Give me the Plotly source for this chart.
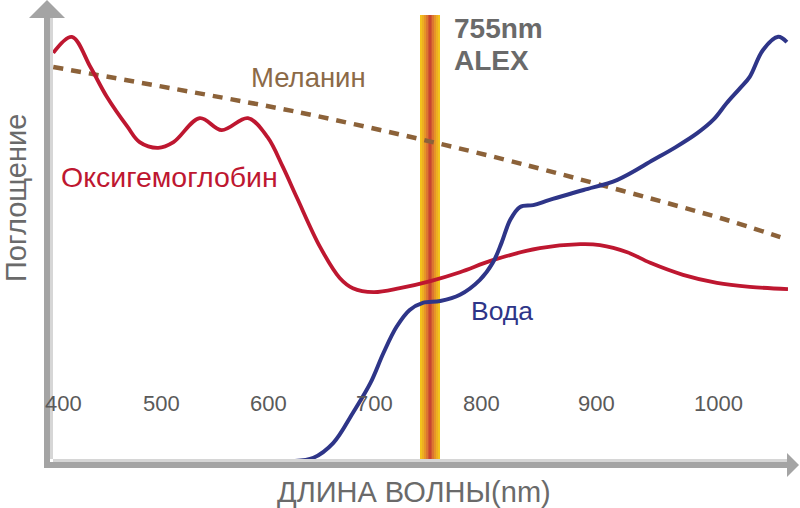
import plotly.graph_objects as go

# wavelength (nm, chart units) and absorption (arbitrary units)
oxy_x = [392, 409, 426, 441, 460, 471, 488, 502, 526, 546, 570, 588, 602, 615,
         636, 654, 666, 685, 709, 737, 764, 794, 837, 874, 892, 917, 938, 968,
         999, 1029, 1064]
oxy_y = [92.6, 96.2, 89.4, 82.7, 75.9, 72.5, 71.2, 72.5, 77.9, 75.2, 77.9, 73.6,
         66.9, 59.9, 48.9, 41.9, 39.6, 38.7, 39.6, 41.2, 43.2, 45.9, 48.6, 49.5,
         49.3, 47.7, 45.3, 42.6, 40.8, 39.9, 39.4]

water_x = [613, 630, 648, 666, 682, 694, 706, 718, 730, 746, 764, 782, 794, 802,
           810, 819, 831, 846, 877, 908, 941, 961, 981, 996, 1008, 1020, 1029,
           1041, 1055, 1063]
water_y = [0.7, 1.4, 4.7, 11.5, 18.2, 25.0, 30.9, 34.7, 36.3, 36.7, 38.1, 41.4,
           45.3, 49.8, 55.0, 57.9, 58.3, 59.5, 61.7, 64.0, 68.5, 71.3, 74.5, 77.6,
           81.3, 84.6, 87.2, 93.2, 96.2, 95.0]

mel_x = [392, 615, 739, 825, 1002, 1057]
mel_y = [89.4, 79.3, 72.5, 67.3, 55.4, 51.1]

tick_pos = [401, 491, 589, 686, 784, 889, 1000]
tick_text = ["400", "500", "600", "700", "800", "900", "1000"]

W, H = 800, 508
FONT = "Liberation Sans, Arial, sans-serif"
GRAY = "#6a6a6a"


def px(x):
    return x / W


def py(y):
    return 1 - y / H


fig = go.Figure()

fig.add_trace(go.Scatter(x=mel_x, y=mel_y, mode="lines",
                         line=dict(color="#8c6239", width=4.5, dash="10px,8px",
                                   shape="spline", smoothing=0.8)))
fig.add_trace(go.Scatter(x=oxy_x, y=oxy_y, mode="lines",
                         line=dict(color="#be1730", width=3.8, shape="spline",
                                   smoothing=1.0)))
fig.add_trace(go.Scatter(x=water_x, y=water_y, mode="lines",
                         line=dict(color="#2e3588", width=4, shape="spline",
                                   smoothing=1.0)))

shapes = []

# 755nm band, yellow edges to red centre
band = [(420, 440, "#f3c21b"), (422, 438, "#eeae21"), (424, 436, "#e69428"),
        (426, 434, "#dc7630"), (428, 432, "#d05832"), (429, 431, "#c8452f")]
for x0, x1, c in band:
    shapes.append(dict(type="rect", xref="paper", yref="paper",
                       x0=px(x0), x1=px(x1), y0=py(462), y1=py(15),
                       fillcolor=c, line=dict(width=0), layer="below"))

# axes with arrows
DARK, LIGHT = "#a4a4a4", "#d6d6d6"
shapes += [
    dict(type="rect", xref="paper", yref="paper", x0=px(44), x1=px(50),
         y0=py(468), y1=py(16), fillcolor=DARK, line=dict(width=0)),
    dict(type="rect", xref="paper", yref="paper", x0=px(50), x1=px(53),
         y0=py(459), y1=py(16), fillcolor=LIGHT, line=dict(width=0)),
    dict(type="rect", xref="paper", yref="paper", x0=px(44), x1=px(788),
         y0=py(468), y1=py(462), fillcolor=DARK, line=dict(width=0)),
    dict(type="rect", xref="paper", yref="paper", x0=px(53), x1=px(788),
         y0=py(462), y1=py(459), fillcolor=LIGHT, line=dict(width=0)),
    dict(type="path", xref="paper", yref="paper",
         path=f"M {px(29)} {py(18)} L {px(65)} {py(18)} L {px(47)} {py(0)} Z",
         fillcolor=DARK, line=dict(width=0)),
    dict(type="path", xref="paper", yref="paper",
         path=f"M {px(787)} {py(453)} L {px(787)} {py(477)} L {px(799)} {py(465)} Z",
         fillcolor=DARK, line=dict(width=0)),
]

annotations = []
for t, s in zip(tick_pos, tick_text):
    annotations.append(dict(x=t, y=13.6, xref="x", yref="y", text=s, showarrow=False,
                            font=dict(family=FONT, size=22, color="#5a5a5a"),
                            xanchor="center", yanchor="middle"))


def label(x, y, text, size, color, anchor="center", angle=0, bold=False):
    if bold:
        text = "<b>" + text + "</b>"
    annotations.append(dict(x=px(x), y=py(y), xref="paper", yref="paper", text=text,
                            showarrow=False, textangle=angle,
                            font=dict(family=FONT, size=size, color=color),
                            xanchor=anchor, yanchor="middle"))


label(308, 78, "Меланин", 27.5, "#8c6a47")
label(169, 177, "Оксигемоглобин", 28.5, "#be1730")
label(502, 311, "Вода", 26.5, "#2e3588")
label(452, 28, "755nm", 28, GRAY, anchor="left", bold=True)
label(452, 60, "ALEX", 28, GRAY, anchor="left", bold=True)
label(16, 198, "Поглощение", 29, GRAY, angle=-90)
label(414, 492, "ДЛИНА ВОЛНЫ(nm)", 29, GRAY)

fig.update_layout(
    width=W, height=H,
    margin=dict(l=0, r=0, t=0, b=0),
    plot_bgcolor="white", paper_bgcolor="white",
    showlegend=False,
    shapes=shapes, annotations=annotations,
    xaxis=dict(range=[343.29, 1074.99], visible=False, fixedrange=True),
    yaxis=dict(range=[-9.91, 104.5], visible=False, fixedrange=True),
)

fig.write_html("out.html", config={"displayModeBar": False},
               post_script="document.body.style.margin='0';"
                           "document.body.style.overflow='hidden';")
